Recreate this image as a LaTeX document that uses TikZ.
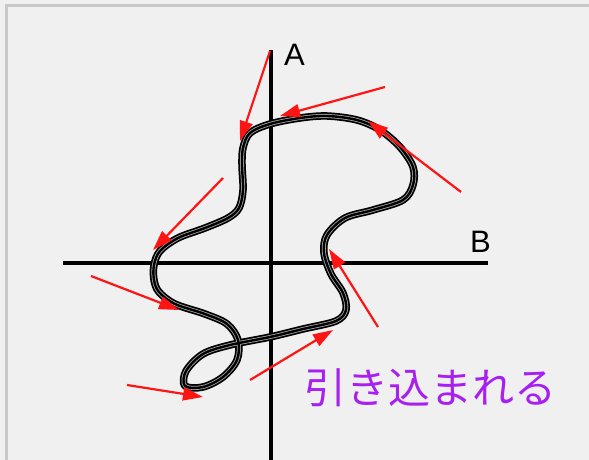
\documentclass[tikz,border=0pt]{standalone}
\usepackage{fontspec}
\setmainfont{Liberation Sans}
\newfontfamily\jpfont{Noto Sans CJK JP}
\usetikzlibrary{arrows.meta}
\definecolor{bgc}{RGB}{240,240,240}
\definecolor{framec}{RGB}{200,200,200}
\definecolor{txtpurple}{RGB}{168,32,240}
\definecolor{arrred}{RGB}{255,20,20}
\tikzset{
  axisline/.style={line width=4pt, black},
  pullarrow/.style={line width=2.2pt, arrred, -{Triangle[length=20pt,width=13pt]}},
  axislabel/.style={font=\fontsize{31}{31}\selectfont, anchor=base west, inner sep=0pt},
}
\begin{document}
\begin{tikzpicture}[x=1pt,y=-1pt]
\useasboundingbox (0,0) rectangle (589,460);
\fill[bgc] (0,0) rectangle (589,460);
\draw[framec, line width=2.5pt] (6.5,460) -- (6.5,5.5) -- (589,5.5);

% axes
\coordinate (atop) at (271,50);
\coordinate (abot) at (271,460);
\coordinate (bleft) at (63,263);
\coordinate (bright) at (488,263);
\draw[axisline] (atop) -- (abot);
\draw[axisline] (bleft) -- (bright);
\node[axislabel] (la) at (284,66) {A};
\node[axislabel] (lb) at (470,252) {B};

% the wire
\def\wirepath{plot[smooth cycle, tension=0.55] coordinates {
 (270,124) (250,133) (243,148) (242,165) (243,190) (239,208) (228,218) (205,228)
 (178,238) (160,251) (154,265) (154,280) (159,292) (175,304) (205,314) (227,324)
 (238,340) (237,360) (223,377) (203,387) (185,386) (186,371) (203,354) (230,345)
 (270,337) (303,329) (336,321) (346,310) (343,293) (331,274) (324,253) (327,235)
 (345,218) (373,210) (403,200) (413,185) (413,167) (400,147) (380,130) (357,120)
 (327,116) (300,118)}}
\draw[black, line width=7.5pt, line join=round] \wirepath;
\draw[white!65!black, line width=4pt, line join=round] \wirepath;
\draw[black, line width=2.4pt, line join=round] \wirepath;

% arrows
\coordinate (t1) at (270,51);   \coordinate (h1) at (240,141);
\coordinate (t2) at (385,87);   \coordinate (h2) at (280,116);
\coordinate (t3) at (461,192);  \coordinate (h3) at (368,121);
\coordinate (t4) at (223,178);  \coordinate (h4) at (153,250);
\coordinate (t5) at (91,276);   \coordinate (h5) at (179,310);
\coordinate (t6) at (378,327);  \coordinate (h6) at (329,249);
\coordinate (t7) at (250,380);  \coordinate (h7) at (333,330);
\coordinate (t8) at (127,385);  \coordinate (h8) at (203,397);
\foreach \i in {1,...,8} \draw[pullarrow] (t\i) -- (h\i);

\node[font=\jpfont\fontsize{42}{42}\selectfont, text=txtpurple, anchor=base west, inner sep=0pt] (label) at (304,403) {引き込まれる};
\end{tikzpicture}
\end{document}
